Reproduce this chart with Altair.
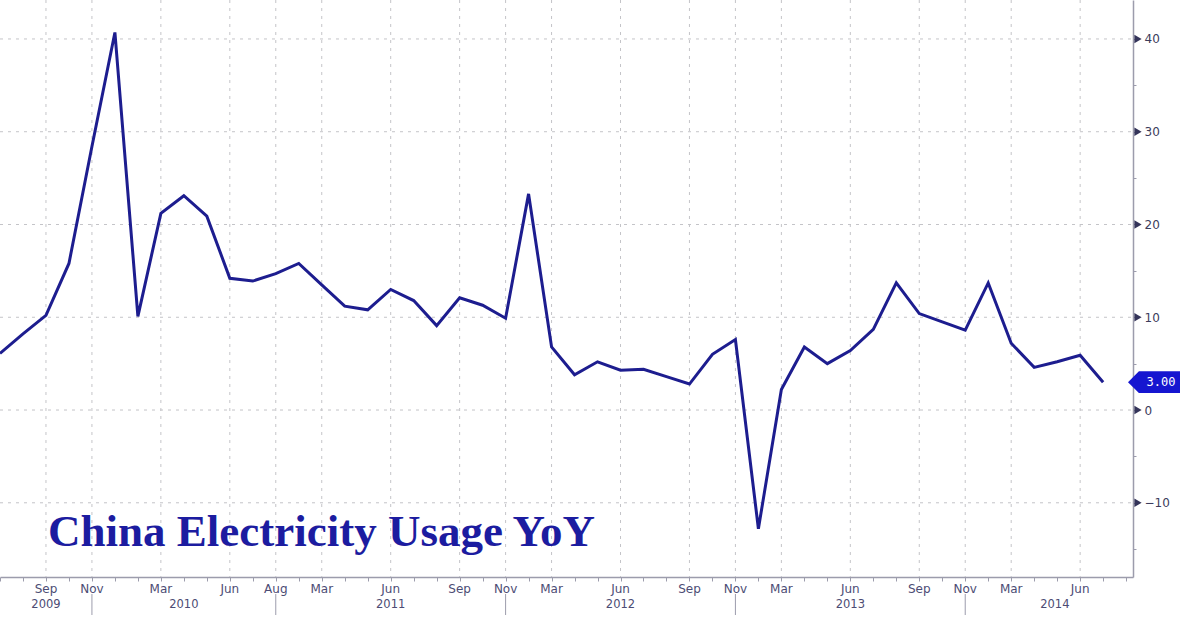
import altair as alt
import pandas as pd

# Year-over-year change in China's electricity consumption (%), one value per release
yoy = [6.1, 8.2, 10.2, 15.8, 28.4, 40.7, 10.1, 21.2, 23.1, 20.9,
       14.2, 13.9, 14.7, 15.8, 13.5, 11.2, 10.8, 13.0, 11.8, 9.1,
       12.1, 11.3, 9.9, 23.3, 6.8, 3.8, 5.2, 4.3, 4.4, 3.6,
       2.8, 6.0, 7.6, -12.8, 2.2, 6.8, 5.0, 6.4, 8.7, 13.7,
       10.4, 9.5, 8.6, 13.7, 7.2, 4.6, 5.2, 5.9, 3.0]

# labelled releases along the time axis (release index -> month name)
month_pos = [2, 4, 7, 10, 12, 14, 17, 20, 22, 24, 27, 30, 32, 34, 37, 40, 42, 44, 47]
month_names = ["Sep", "Nov", "Mar", "Jun", "Aug", "Mar", "Jun", "Sep", "Nov", "Mar",
               "Jun", "Sep", "Nov", "Mar", "Jun", "Sep", "Nov", "Mar", "Jun"]
year_pos = [2, 8, 17, 27, 37, 45.9]
year_names = ["2009", "2010", "2011", "2012", "2013", "2014"]
year_breaks = [4, 12, 22, 32, 42]

y_major = [-10, 0, 10, 20, 30, 40]
y_all = [-15, -10, -5, 0, 5, 10, 15, 20, 25, 30, 35, 40]

title_text = "China Electricity Usage YoY"

W, H = 1133, 577
LINE = "#1d1d8f"
GRID = "#c4c4c8"
AXIS = "#9c9cac"
LABEL = "#4c4c74"

series = pd.DataFrame({"i": list(range(len(yoy))), "v": yoy})
last = series.tail(1)
months = pd.DataFrame({"i": month_pos, "m": month_names})
years = pd.DataFrame({"i": year_pos, "y": year_names})
breaks = pd.DataFrame({"i": year_breaks})
majors = pd.DataFrame({"v": y_major})
title_df = pd.DataFrame({"t": [title_text]})

xs = alt.Scale(domain=[0, 49.3], nice=False, zero=False)
ys = alt.Scale(domain=[-18, 44.2], nice=False, zero=False)

x_axis = alt.Axis(values=list(range(50)), labels=False, title=None, grid=False,
                  tickSize=4, tickColor=AXIS, domainColor=AXIS, domainWidth=1.5)
y_axis = alt.Axis(orient="right", values=y_all, title=None, grid=False,
                  tickSize=3, tickColor=AXIS, domainColor=AXIS, domainWidth=1.5,
                  labelExpr="datum.value % 10 === 0 ? datum.label : ''",
                  labelPadding=8, labelFontSize=12, labelFont="DejaVu Sans",
                  labelColor="#3c3c5c")

X = alt.X("i:Q", scale=xs, axis=x_axis)
Y = alt.Y("v:Q", scale=ys, axis=y_axis)

hgrid = alt.Chart(majors).mark_rule(color=GRID, strokeDash=[3, 5], strokeWidth=1).encode(
    y=Y, x=alt.value(0), x2=alt.value(W),
)

vgrid = alt.Chart(months).mark_rule(color=GRID, strokeDash=[3, 5], strokeWidth=1).encode(
    x=X, y=alt.value(0), y2=alt.value(H),
)

line = alt.Chart(series).mark_line(color=LINE, strokeWidth=3, strokeJoin="miter").encode(
    x=X, y=Y,
)

# pointer marks next to the labelled y ticks
arrows = alt.Chart(majors).mark_point(shape="triangle-right", filled=True, size=70,
                                      color="#34345a", opacity=1).encode(
    x=alt.value(W + 5), y=Y,
)

month_text = alt.Chart(months).mark_text(font="DejaVu Sans", fontSize=12, color=LABEL,
                                         baseline="middle").encode(
    x=X, y=alt.value(H + 12), text="m:N",
)

year_text = alt.Chart(years).mark_text(font="DejaVu Sans", fontSize=11.5, color=LABEL,
                                       baseline="middle").encode(
    x=X, y=alt.value(H + 28), text="y:N",
)

year_sep = alt.Chart(breaks).mark_rule(color=AXIS, strokeWidth=1).encode(
    x=X, y=alt.value(H + 17), y2=alt.value(H + 38),
)

tag_shape = "M -1 0 L -0.58 -0.42 L 1 -0.42 L 1 0.42 L -0.58 0.42 Z"
tag = alt.Chart(last).mark_point(shape=tag_shape, filled=True, size=2704,
                                 color="#1616d0", opacity=1).encode(
    x=alt.value(W + 21), y=Y,
)
tag_text = alt.Chart(last).mark_text(font="DejaVu Sans Mono", fontSize=12, color="white",
                                     align="center", baseline="middle").encode(
    x=alt.value(W + 28), y=Y, text=alt.Text("v:Q", format=".2f"),
)

title = alt.Chart(title_df).mark_text(font="Liberation Serif", fontWeight="bold", fontSize=45,
                                      color="#1c1ca0", align="left",
                                      baseline="alphabetic").encode(
    x=alt.value(48), y=alt.value(546), text="t:N",
)

chart = alt.layer(
    hgrid, vgrid, line, arrows, month_text, year_text, year_sep, title, tag, tag_text
).properties(
    width=W, height=H,
    autosize=alt.AutoSizeParams(type="none"),
    padding={"left": 0, "top": 0, "right": 47, "bottom": 41},
    background="white",
).configure_view(stroke=None)

chart.save("out.html", embed_options={"renderer": "svg", "actions": False})
